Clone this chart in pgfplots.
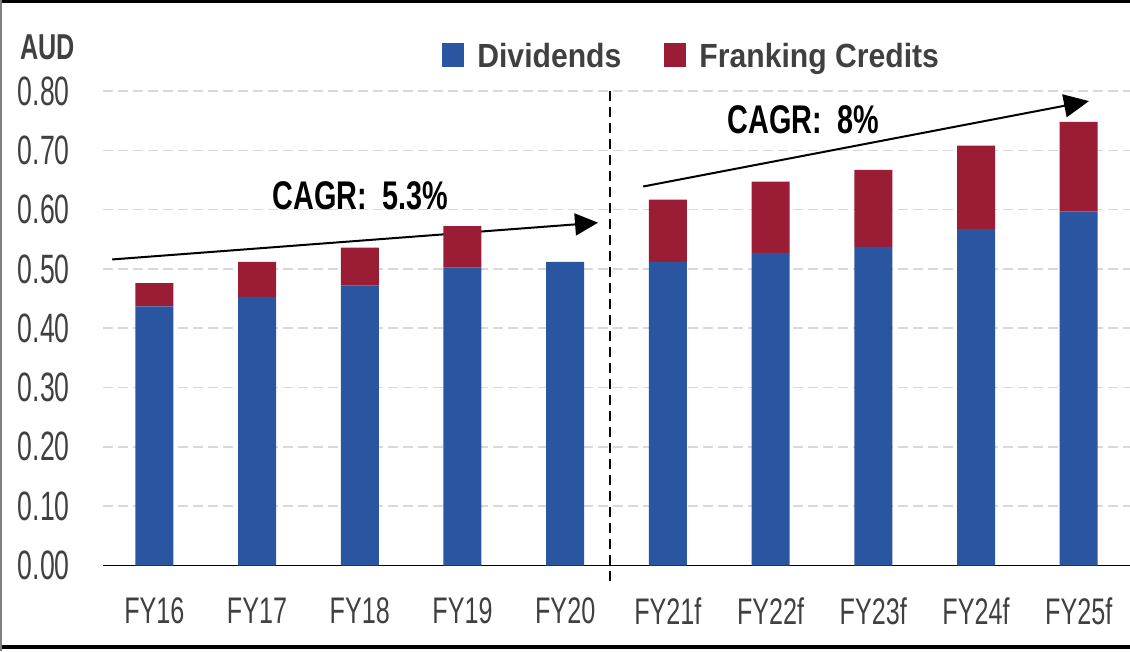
\documentclass[border=0pt]{standalone}
\usepackage{fontspec}
\setmainfont{Liberation Sans}
\newfontfamily\ytf{Liberation Sans}[FakeStretch=0.65]
\newfontfamily\xtf{Liberation Sans}[FakeStretch=0.68]
\newfontfamily\bcf{Liberation Sans}[FakeStretch=0.72]
\newfontfamily\auf{Liberation Sans}[FakeStretch=0.70]
\newfontfamily\lgf{Liberation Sans}[FakeStretch=0.9]
\usepackage{pgfplots}
\usepackage{pgfplotstable}
\pgfplotsset{compat=1.18}
\usetikzlibrary{arrows.meta}
\definecolor{divblue}{RGB}{42,85,160}
\definecolor{frred}{RGB}{154,29,53}
\definecolor{txtgray}{RGB}{64,64,64}
\definecolor{gridgray}{RGB}{217,217,217}

\pgfplotstableread{
x div fr
0 0.437 0.039
1 0.453 0.059
2 0.472 0.064
3 0.502 0.070
4 0.512 0.000
5 0.512 0.105
6 0.527 0.120
7 0.537 0.130
8 0.567 0.141
9 0.597 0.151
}\datatab

\begin{document}
\begin{tikzpicture}[x=1pt,y=1pt]
\useasboundingbox (0,0) rectangle (1130,651);
\begin{axis}[
  at={(103pt,85.5pt)}, anchor=south west,
  scale only axis, width=1027pt, height=474.5pt,
  xmin=-0.5, xmax=9.5, ymin=0, ymax=0.8,
  ybar stacked, bar width=38pt,
  axis x line*=bottom, axis y line*=left,
  y axis line style={draw=none},
  x axis line style={black, line width=1.5pt, -},
  major tick length=0pt,
  xtick={0,1,2,3,4,5,6,7,8,9},
  xticklabels={FY16,FY17,FY18,FY19,FY20,FY21f,FY22f,FY23f,FY24f,FY25f},
  ytick={0,0.1,0.2,0.3,0.4,0.5,0.6,0.7,0.8},
  yticklabels={0.00,0.10,0.20,0.30,0.40,0.50,0.60,0.70,0.80},
  yticklabel style={anchor=east, inner sep=0pt, xshift=-33pt, text=txtgray, font=\ytf\fontsize{41}{45}\selectfont},
  xticklabel style={anchor=north, inner sep=0pt, yshift=-32pt, text=txtgray, font=\xtf\fontsize{37}{40}\selectfont},
  ymajorgrids,
  grid style={gridgray, line width=1.5pt, dash pattern=on 10pt off 5pt},
  clip=false,
  legend columns=2,
  legend image code/.code={\fill[#1] (0pt,-11pt) rectangle (22pt,13pt);},
  legend style={at={(axis cs:2.804,0.881)}, anchor=north west, draw=none, fill=none,
    inner sep=0pt, outer sep=0pt,
    nodes={inner sep=0pt, text=txtgray, font=\lgf\bfseries\fontsize{33.5}{36}\selectfont},
    /tikz/every odd column/.append style={column sep=13pt},
    /tikz/every even column/.append style={column sep=43pt}},
]
\addplot[fill=divblue, draw=none] table[x=x, y=div] {\datatab};
\addlegendentry{Dividends}
\addplot[fill=frred, draw=none] table[x=x, y=fr] {\datatab};
\addlegendentry{Franking Credits}

\draw[line width=2pt, dash pattern=on 10pt off 6pt] (axis cs:4.44,0.8) -- (axis cs:4.44,-0.028);
\draw[line width=2pt, -{Triangle[length=23pt,width=22pt]}] (axis cs:-0.41,0.516) -- (axis cs:4.32,0.578);
\draw[line width=2pt, -{Triangle[length=25pt,width=23pt]}] (axis cs:4.76,0.639) -- (axis cs:9.10,0.783);
\node[anchor=base west, inner sep=0pt, font=\bcf\bfseries\fontsize{40}{42}\selectfont] at (axis cs:1.149,0.5994) {CAGR:\ \ 5.3\%};
\node[anchor=base west, inner sep=0pt, font=\bcf\bfseries\fontsize{40}{42}\selectfont] at (axis cs:5.579,0.7275) {CAGR:\ \ 8\%};
\end{axis}
\node[anchor=base west, inner sep=0pt, text=txtgray, font=\auf\bfseries\fontsize{36}{38}\selectfont] at (20,591) {AUD};
\draw[black, line width=3pt] (0,649.5) -- (1130,649.5);
\draw[black, line width=4pt] (0,4.5) -- (1130,4.5);
\draw[gray, line width=2pt] (1,0) -- (1,651);
\end{tikzpicture}
\end{document}
